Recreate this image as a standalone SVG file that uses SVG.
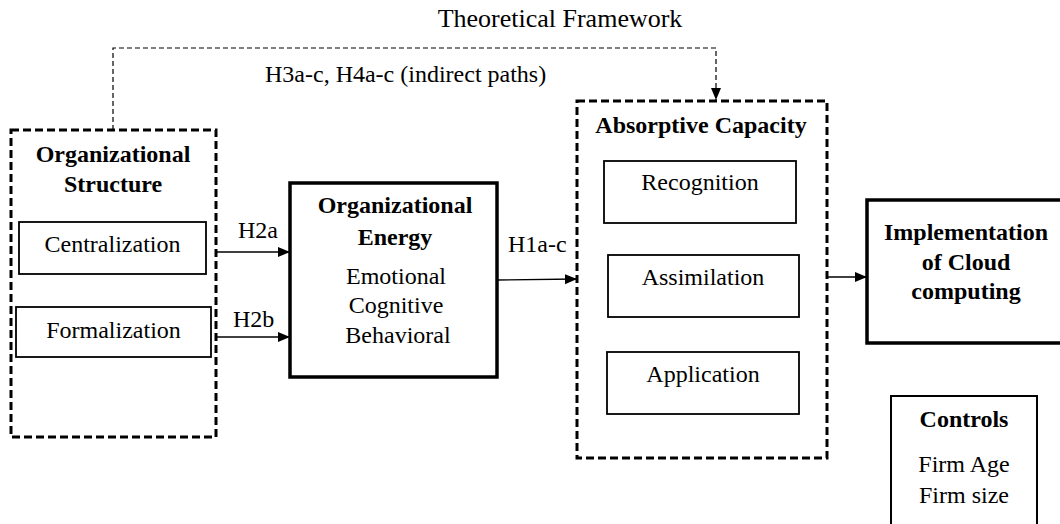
<svg xmlns="http://www.w3.org/2000/svg" width="1060" height="524" viewBox="0 0 1060 524">
<style>
text{font-family:"Liberation Serif","Times New Roman",serif;font-size:24px;fill:#000;}
.b{font-weight:bold;}
.m{text-anchor:middle;}
.dbox{fill:none;stroke:#000;stroke-width:3;stroke-dasharray:8,4;}
.ibox{fill:#fff;stroke:#000;stroke-width:1.8;}
.tbox{fill:#fff;stroke:#000;stroke-width:3.5;}
.cbox{fill:#fff;stroke:#000;stroke-width:2;}
.conn{fill:none;stroke:#000;stroke-width:1.4;}
.dconn{fill:none;stroke:#000;stroke-width:1.2;stroke-dasharray:5,3;}
</style>
<defs>
<marker id="ah" markerUnits="userSpaceOnUse" markerWidth="13" markerHeight="11" refX="12" refY="5" orient="auto">
<path d="M0,0 L12,5 L0,10 z" fill="#000"/>
</marker>
</defs>
<text class="m" x="560" y="27" style="font-size:26px">Theoretical Framework</text>
<text x="265" y="82">H3a-c, H4a-c (indirect paths)</text>
<g id="connectors">
<path class="dconn" d="M113,130 V48 H716 V100" marker-end="url(#ah)"/>
<line class="conn" x1="217" y1="252" x2="290" y2="252" marker-end="url(#ah)"/>
<line class="conn" x1="217" y1="337" x2="290" y2="337" marker-end="url(#ah)"/>
<line class="conn" x1="497" y1="280" x2="577" y2="279" marker-end="url(#ah)"/>
<line class="conn" x1="827" y1="277" x2="867" y2="277" marker-end="url(#ah)"/>
<text x="238" y="238">H2a</text>
<text x="233" y="327">H2b</text>
<text x="508" y="252">H1a-c</text>
</g>
<g id="org-structure">
<rect class="dbox" x="11" y="130" width="205" height="307"/>
<text class="b m" x="113" y="162">Organizational</text>
<text class="b m" x="113" y="192">Structure</text>
</g>
<g id="centralization">
<rect class="ibox" x="19" y="222" width="187" height="52"/>
<text class="m" x="112.5" y="252">Centralization</text>
</g>
<g id="formalization">
<rect class="ibox" x="16" y="307" width="195" height="50"/>
<text class="m" x="113.5" y="338">Formalization</text>
</g>
<g id="org-energy">
<rect class="tbox" x="290" y="183" width="207" height="194"/>
<text class="b m" x="395" y="213">Organizational</text>
<text class="b m" x="395" y="245">Energy</text>
<text class="m" x="396" y="284">Emotional</text>
<text class="m" x="396" y="313">Cognitive</text>
<text class="m" x="398" y="343">Behavioral</text>
</g>
<g id="absorptive-capacity">
<rect class="dbox" x="577" y="101" width="250" height="357"/>
<text class="b m" x="701" y="133">Absorptive Capacity</text>
</g>
<g id="recognition">
<rect class="ibox" x="604" y="161" width="192" height="62"/>
<text class="m" x="700" y="190">Recognition</text>
</g>
<g id="assimilation">
<rect class="ibox" x="608" y="255" width="191" height="62"/>
<text class="m" x="703" y="285">Assimilation</text>
</g>
<g id="application">
<rect class="ibox" x="607" y="352" width="192" height="62"/>
<text class="m" x="703" y="382">Application</text>
</g>
<g id="implementation">
<rect class="tbox" x="867" y="200" width="196" height="143"/>
<text class="b m" x="966" y="240">Implementation</text>
<text class="b m" x="966" y="270">of Cloud</text>
<text class="b m" x="966" y="299">computing</text>
</g>
<g id="controls">
<rect class="cbox" x="891" y="396" width="146" height="140"/>
<text class="b m" x="964" y="427">Controls</text>
<text class="m" x="964" y="472">Firm Age</text>
<text class="m" x="964" y="503">Firm size</text>
</g>
</svg>
